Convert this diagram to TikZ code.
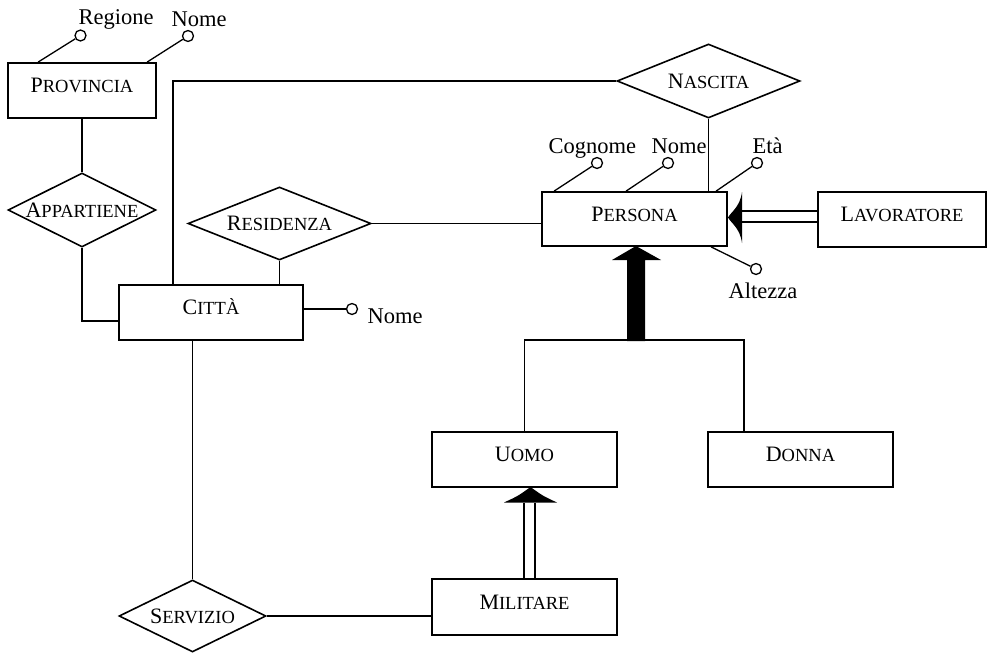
\documentclass[tikz,border=0pt]{standalone}
\usepackage{fontspec}
\setmainfont{Liberation Serif}
\usetikzlibrary{shapes.geometric}
\newcommand\fsc[2]{{\fontsize{22}{22}\selectfont #1}{\fontsize{18.5}{18.5}\selectfont #2}}
\begin{document}
\begin{tikzpicture}[x=1pt,y=-1pt,line width=1.3pt,
  ent/.style={draw, rectangle, line width=1.8pt, inner sep=0pt, text height=16pt, text depth=12pt},
  rel/.style={draw, diamond, line width=1.6pt, inner sep=0pt},
  rlab/.style={inner sep=0pt, text height=14.5pt, text depth=0pt},
  attr/.style={draw, circle, fill=white, minimum size=11pt, inner sep=0pt, line width=1.3pt},
  atext/.style={inner sep=0pt, anchor=base west, font=\fontsize{22.5}{22.5}\selectfont},
  conn/.style={line width=1.3pt}
]
\useasboundingbox (0,0) rectangle (995,653);

% entities
\node[ent, minimum width=148pt, minimum height=55pt] (prov) at (82,90.5) {\fsc{P}{ROVINCIA}};
\node[ent, minimum width=184pt, minimum height=55pt] (citta) at (211,312.5) {\fsc{C}{ITTÀ}};
\node[ent, minimum width=185pt, minimum height=54pt] (pers) at (634.5,219) {\fsc{P}{ERSONA}};
\node[ent, minimum width=168pt, minimum height=55pt] (lav) at (902,219.5) {\fsc{L}{AVORATORE}};
\node[ent, minimum width=185pt, minimum height=55pt] (uomo) at (524.5,459.5) {\fsc{U}{OMO}};
\node[ent, minimum width=185pt, minimum height=55pt] (donna) at (800.5,459.5) {\fsc{D}{ONNA}};
\node[ent, minimum width=185pt, minimum height=56pt] (mil) at (524.5,607) {\fsc{M}{ILITARE}};

% relationships
\node[rel, minimum width=148pt, minimum height=74pt, label={[rlab]center:\fsc{A}{PPARTIENE}}] (app) at (82,210) {};
\node[rel, minimum width=183pt, minimum height=73pt, label={[rlab]center:\fsc{R}{ESIDENZA}}] (res) at (279.5,223.5) {};
\node[rel, minimum width=183pt, minimum height=74pt, label={[rlab]center:\fsc{N}{ASCITA}}] (nasc) at (708.5,81) {};
\node[rel, minimum width=147pt, minimum height=72pt, label={[rlab]center:\fsc{S}{ERVIZIO}}] (serv) at (192.5,616) {};

% attributes
\node[attr] (r1) at (80.5,35.5) {};
\node[attr] (r2) at (188,36) {};
\node[attr] (cn) at (352,309) {};
\node[attr] (cog) at (597,163) {};
\node[attr] (pn) at (668,163) {};
\node[attr] (eta) at (757,163) {};
\node[attr] (alt) at (756,269) {};

\node[atext] (tr1) at (78,24) {Regione};
\node[atext] (tr2) at (171,26) {Nome};
\node[atext] (tcn) at (367,323) {Nome};
\node[atext] (tcog) at (548,153) {Cognome};
\node[atext] (tpn) at (651,153) {Nome};
\node[atext] (teta) at (752,153) {Età};
\node[atext] (talt) at (728,298) {Altezza};

% attribute links
\draw[conn] ([xshift=31pt]prov.north west) -- (r1);
\draw[conn] ([xshift=140pt]prov.north west) -- (r2);
\draw[conn] (cn) -- (cn -| citta.east);
\draw[conn] ([xshift=13pt]pers.north west) -- (cog);
\draw[conn] ([xshift=85pt]pers.north west) -- (pn);
\draw[conn] ([xshift=175pt]pers.north west) -- (eta);
\draw[conn] ([xshift=170pt]pers.south west) -- (alt);

% relationship links
\draw[conn] (prov.south) -- (app.north);
\draw[conn] (app.south) |- ([yshift=-8.5pt]citta.west);
\draw[conn] ([xshift=55pt]citta.north west) |- (nasc.west);
\draw[conn] (nasc.south) -- (nasc.south |- pers.north);
\draw[conn] (res.south) -- (res.south |- citta.north);
\draw[conn] (res.east) -- (res.east -| pers.west);
\draw[conn] (serv.north) -- (serv.north |- citta.south);
\draw[conn] (serv.east) -- (serv.east -| mil.west);

% generalization Persona -> Uomo / Donna
\coordinate (gen) at (636,340);
\draw[conn] (uomo.north) |- (gen) -| ([xshift=37pt]donna.north west);
\fill (627,341) -- (627,260) -- (612,260) -- (636,246) -- (661,260) -- (645,260) -- (645,341) -- cycle;

% subset Militare -> Uomo
\draw[conn] ([xshift=93pt]mil.north west) -- ([xshift=93pt,yshift=-15pt]uomo.south west);
\draw[conn] ([xshift=104pt]mil.north west) -- ([xshift=104pt,yshift=-15pt]uomo.south west);
\fill (504,502.5) .. controls (518,496) .. (530.5,487) .. controls (543,496) .. (557,502.5) -- cycle;

% subset Lavoratore -> Persona
\draw[conn] ([yshift=8.5pt]lav.west) -- ([xshift=13pt,yshift=8pt]pers.east);
\draw[conn] ([yshift=-2.5pt]lav.west) -- ([xshift=13pt,yshift=-3pt]pers.east);
\fill (742,192) .. controls (740,207) and (731,212) .. (728,217.5) .. controls (731,223) and (740,228) .. (742,243) -- cycle;
\end{tikzpicture}
\end{document}
